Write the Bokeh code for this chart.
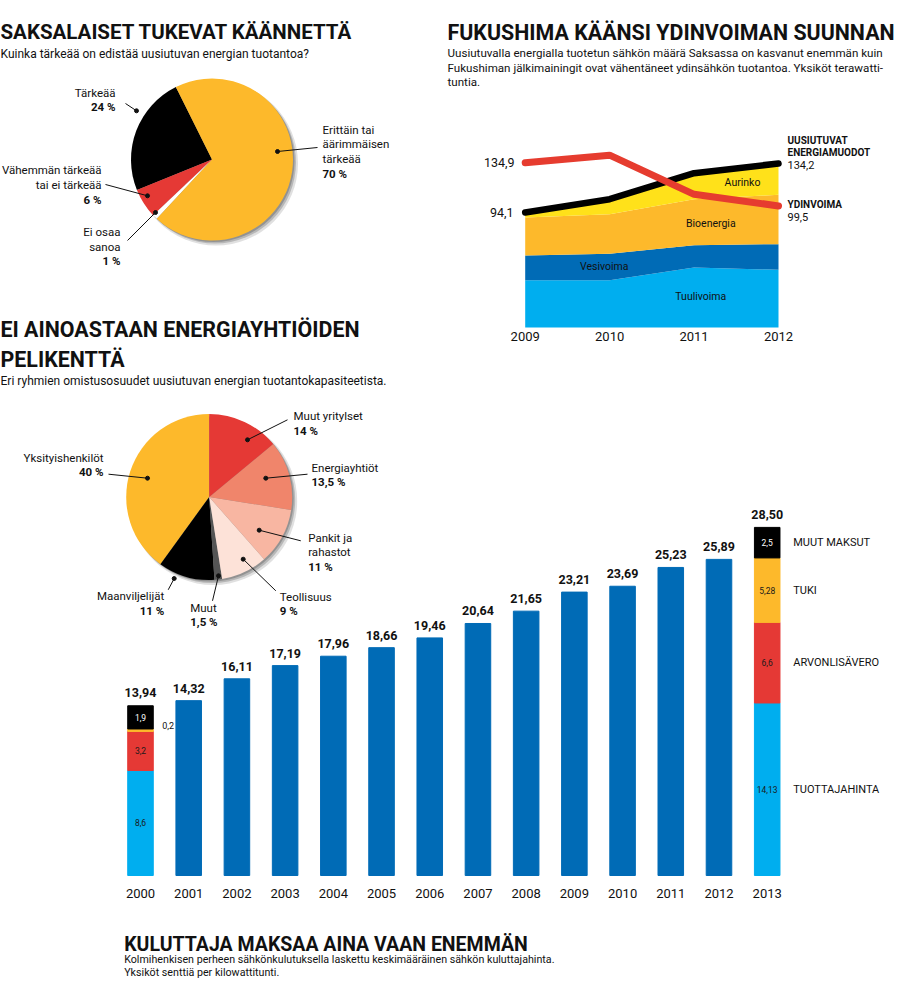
import numpy as np
from bokeh.plotting import figure
from bokeh.models import Range1d, ColumnDataSource
from bokeh.core.properties import value
from bokeh.embed import file_html
from bokeh.resources import INLINE

# ---------------- data ----------------
pie1_labels = ["Tärkeää", "Vähemmän tärkeää\ntai ei tärkeää", "Ei osaa\nsanoa",
               "Erittäin tai\näärimmäisen\ntärkeää"]
pie1_values = [24, 6, 1, 70]

line_years = [2009, 2010, 2011, 2012]
tuulivoima = [38.7, 38.7, 49.1, 47.2]
vesivoima = [20.2, 21.6, 18.2, 21.0]
bioenergia = [31.1, 32.4, 37.6, 40.4]
aurinko = [4.1, 12.3, 21.4, 25.6]
ydinvoima = [134.9, 141.0, 109.0, 99.5]
area_names = ["Tuulivoima", "Vesivoima", "Bioenergia", "Aurinko"]

pie2_labels = ["Yksityishenkilöt", "Maanviljelijät", "Muut", "Teollisuus",
               "Pankit ja\nrahastot", "Energiayhtiöt", "Muut yritylset"]
pie2_values = [40, 11, 1.5, 9, 11, 13.5, 14]

bar_years = list(range(2000, 2014))
bar_totals = [13.94, 14.32, 16.11, 17.19, 17.96, 18.66, 19.46, 20.64,
              21.65, 23.21, 23.69, 25.23, 25.89, 28.50]
stack_names = ["TUOTTAJAHINTA", "ARVONLISÄVERO", "TUKI", "MUUT MAKSUT"]
stack_2000 = [8.6, 3.2, 0.2, 1.9]
stack_2013 = [14.13, 6.6, 5.28, 2.5]

# ---------------- style ----------------
FONT = "Roboto"
YELLOW = "#FDB92B"
RED = "#E53935"
BLUE = "#006BB6"
LBLUE = "#00AEEF"
SUN = "#FFE11A"
INK = "#111111"
BODY = 11.5

W, H = 897, 984
X0, X1, Y0, Y1 = 8, 905, 8, 992


def span(v_a, p_a, v_b, p_b, p_start, p_end):
    k = (v_b - v_a) / (p_b - p_a)
    return Range1d(start=v_a + (p_start - p_a) * k, end=v_a + (p_end - p_a) * k)


p = figure(width=W, height=H, x_range=Range1d(X0, X1), y_range=Range1d(Y1, Y0),
           x_axis_location=None, y_axis_location=None, toolbar_location=None,
           output_backend="svg", min_border=0, outline_line_color=None)
p.grid.visible = False
p.background_fill_color = "white"
p.border_fill_color = "white"
p.extra_x_ranges = {"line": span(2009, 532.7, 2012, 786.0, X0, X1),
                    "bar": span(2000, 148.0, 2013, 774.7, X0, X1)}
p.extra_y_ranges = {"line": span(0, 335.0, 100, 212.8, Y1, Y0),
                    "bar": span(0, 883.0, 10, 760.9, Y1, Y0),
                    "pie": Range1d(start=-Y1, end=-Y0)}


def txt(x, y, s, size=BODY, bold=False, align="left", baseline="middle",
        color=INK, xr="default", yr="default"):
    xs = list(x) if hasattr(x, "__len__") else [x]
    ys = list(y) if hasattr(y, "__len__") else [y]
    ss = list(s) if isinstance(s, (list, tuple)) else [s]
    n = max(len(xs), len(ys), len(ss))
    xs = xs * n if len(xs) == 1 else xs
    ys = ys * n if len(ys) == 1 else ys
    ss = ss * n if len(ss) == 1 else ss
    cs = color if isinstance(color, list) else [color] * n
    p.text(x=xs, y=ys, text=ss, text_font=value(FONT), text_font_size=f"{size}px",
           text_font_style="bold" if bold else "normal", text_align=align,
           text_baseline=baseline, text_color=cs, x_range_name=xr, y_range_name=yr)


def num(v, d=None):
    s = f"{v:.{d}f}" if d is not None else f"{v:g}"
    return s.replace(".", ",")


def draw_pie(cx, cy, r, vals, colors, start_deg):
    vals = np.asarray(vals, float)
    ang = vals / vals.sum() * 2 * np.pi
    end = np.deg2rad(start_deg) + np.cumsum(ang)
    start = end - ang
    for dx, dy, rr, a in [(4, 4, r + 1, 0.12), (3, 3, r, 0.18), (1.5, 1.5, r, 0.2)]:
        p.circle(x=[cx + dx], y=[-(cy + dy)], radius=rr, radius_units="screen",
                 fill_color="black", fill_alpha=a, line_color=None, y_range_name="pie")
    p.wedge(x=cx, y=-cy, radius=r, radius_units="screen", start_angle=start,
            end_angle=end, fill_color=colors, line_color=None, y_range_name="pie")


LH = 14.7


def pie_labels(labels, vals, anchors, leaders):
    for lab, v, (x, y, align) in zip(labels, vals, anchors):
        lines = lab.split("\n")
        for i, s in enumerate(lines):
            txt(x, y + i * LH, s, BODY, False, align)
        txt(x, y + len(lines) * LH, num(v) + " %", BODY, True, align)
    x0 = [l[0] for l in leaders]
    y0 = [l[1] for l in leaders]
    x1 = [l[2] for l in leaders]
    y1 = [l[3] for l in leaders]
    p.segment(x0, y0, x1, y1, line_color=INK, line_width=1)
    p.scatter(x1, y1, size=4, color=INK)


# ---------------- section 1: pie ----------------
txt(8, 39.5, "SAKSALAISET TUKEVAT KÄÄNNETTÄ", 20.5, True, baseline="alphabetic")
txt(8, 61.5, "Kuinka tärkeää on edistää uusiutuvan energian tuotantoa?", 12,
    baseline="alphabetic")
draw_pie(219.5, 167, 81, pie1_values, ["black", RED, "white", YELLOW], 116.5)
pie_labels(pie1_labels, pie1_values,
           [(123, 100, "right"), (109, 177.7, "right"), (128, 239.3, "right"),
            (330, 137, "left")],
           [(133, 111, 144, 118.3), (113, 192, 155, 203.3), (135, 248, 163, 220),
            (325, 155, 285, 159)])

# ---------------- section 2: area + lines ----------------
txt(455, 39.5, "FUKUSHIMA KÄÄNSI YDINVOIMAN SUUNNAN", 21.4, True, baseline="alphabetic")
txt(455, [60, 75, 89.5],
    ["Uusiutuvalla energialla tuotetun sähkön määrä Saksassa on kasvanut enemmän kuin",
     "Fukushiman jälkimainingit ovat vähentäneet ydinsähkön tuotantoa. Yksiköt terawatti-",
     "tuntia."], 11.6, baseline="alphabetic")

src = ColumnDataSource(dict(year=line_years, Tuulivoima=tuulivoima, Vesivoima=vesivoima,
                            Bioenergia=bioenergia, Aurinko=aurinko))
p.varea_stack(stackers=area_names, x="year", color=[LBLUE, BLUE, YELLOW, SUN],
              source=src, x_range_name="line", y_range_name="line")
total = np.sum([tuulivoima, vesivoima, bioenergia, aurinko], axis=0)
p.line(line_years, total, line_width=6.5, color="black", line_cap="round",
       x_range_name="line", y_range_name="line")
p.line(line_years, ydinvoima, line_width=7, color="#E63C2F", line_cap="round",
       x_range_name="line", y_range_name="line")

txt(522, ydinvoima[0], num(ydinvoima[0], 1), 12.5, align="right", yr="line")
txt(521, total[0], num(total[0], 1), 12.5, align="right", yr="line")
txt(795, [147.7, 160], ["UUSIUTUVAT", "ENERGIAMUODOT"], 10, True)
txt(795, 172.3, num(total[-1], 1), 11)
txt(795, 211.7, "YDINVOIMA", 10, True)
txt(795, 224, num(ydinvoima[-1], 1), 11)
txt([708.3, 611.7, 718.3, 750], [304, 274, 230.7, 190], area_names, 10.5, align="center")
txt(line_years, 344, [str(y) for y in line_years], 13, align="center", xr="line")

# ---------------- section 3: pie ----------------
txt(8, [336.7, 366.7], ["EI AINOASTAAN ENERGIAYHTIÖIDEN", "PELIKENTTÄ"], 21.4, True,
    baseline="alphabetic")
txt(8, 388.3, "Eri ryhmien omistusosuudet uusiutuvan energian tuotantokapasiteetista.",
    12, baseline="alphabetic")
draw_pie(216.7, 504.5, 83, pie2_values,
         [YELLOW, "black", "#555555", "#FDE2D8", "#F8B6A2", "#F0856B", RED], 90)
pie_labels(pie2_labels, pie2_values,
           [(111, 465, "right"), (171.7, 603.3, "right"), (197.7, 615, "left"),
            (287.3, 604, "left"), (315.7, 545, "left"), (319, 475, "left"),
            (301, 423.3, "left")],
           [(116, 481.7, 155, 485.7), (175.7, 597.3, 181.7, 586), (220, 608.3, 226, 583.3),
            (283.3, 598.3, 250.7, 566.7), (308.3, 548.3, 266.7, 537.7),
            (315, 481.7, 273.3, 485.7), (295, 427.3, 255, 447.3)])

# ---------------- section 4: bars ----------------
BW = 0.53
p.vbar(x=bar_years[1:-1], top=bar_totals[1:-1], bottom=0, width=BW, color=BLUE,
       x_range_name="bar", y_range_name="bar")
stack_colors = [LBLUE, RED, YELLOW, "black"]
label_colors = ["#1a1a1a", "#1a1a1a", "#1a1a1a", "white"]
for yr, stack in [(bar_years[0], stack_2000), (bar_years[-1], stack_2013)]:
    vals = np.asarray(stack, float)
    tops = np.cumsum(vals)
    bottoms = tops - vals
    p.vbar(x=[yr] * len(vals), bottom=bottoms, top=tops, width=BW, color=stack_colors,
           x_range_name="bar", y_range_name="bar")
    mids = (tops + bottoms) / 2
    inside = [i for i in range(len(vals)) if vals[i] >= 1]
    txt([yr] * len(inside), [mids[i] for i in inside], [num(vals[i]) for i in inside], 8.5,
        align="center", color=[label_colors[i] for i in inside], xr="bar", yr="bar")
    outside = [i for i in range(len(vals)) if vals[i] < 1]
    for i in outside:
        txt(yr + 0.45, mids[i] + 0.35, num(vals[i]), 9, xr="bar", yr="bar")
    if yr == bar_years[-1]:
        txt(800.7, list(mids), stack_names, 11, yr="bar")

txt(bar_years, [t + 1.03 for t in bar_totals], [num(t, 2) for t in bar_totals], 12.5, True,
    align="center", xr="bar", yr="bar")
txt(bar_years, 900.7, [str(y) for y in bar_years], 13, align="center", xr="bar")

txt(131.7, 951.7, "KULUTTAJA MAKSAA AINA VAAN ENEMMÄN", 19.5, True, baseline="alphabetic")
txt(131.7, [966.5, 979.5],
    ["Kolmihenkisen perheen sähkönkulutuksella laskettu keskimääräinen sähkön kuluttajahinta.",
     "Yksiköt senttiä per kilowattitunti."], 10.7, baseline="alphabetic")

open("out.html", "w").write(file_html(p, INLINE))
